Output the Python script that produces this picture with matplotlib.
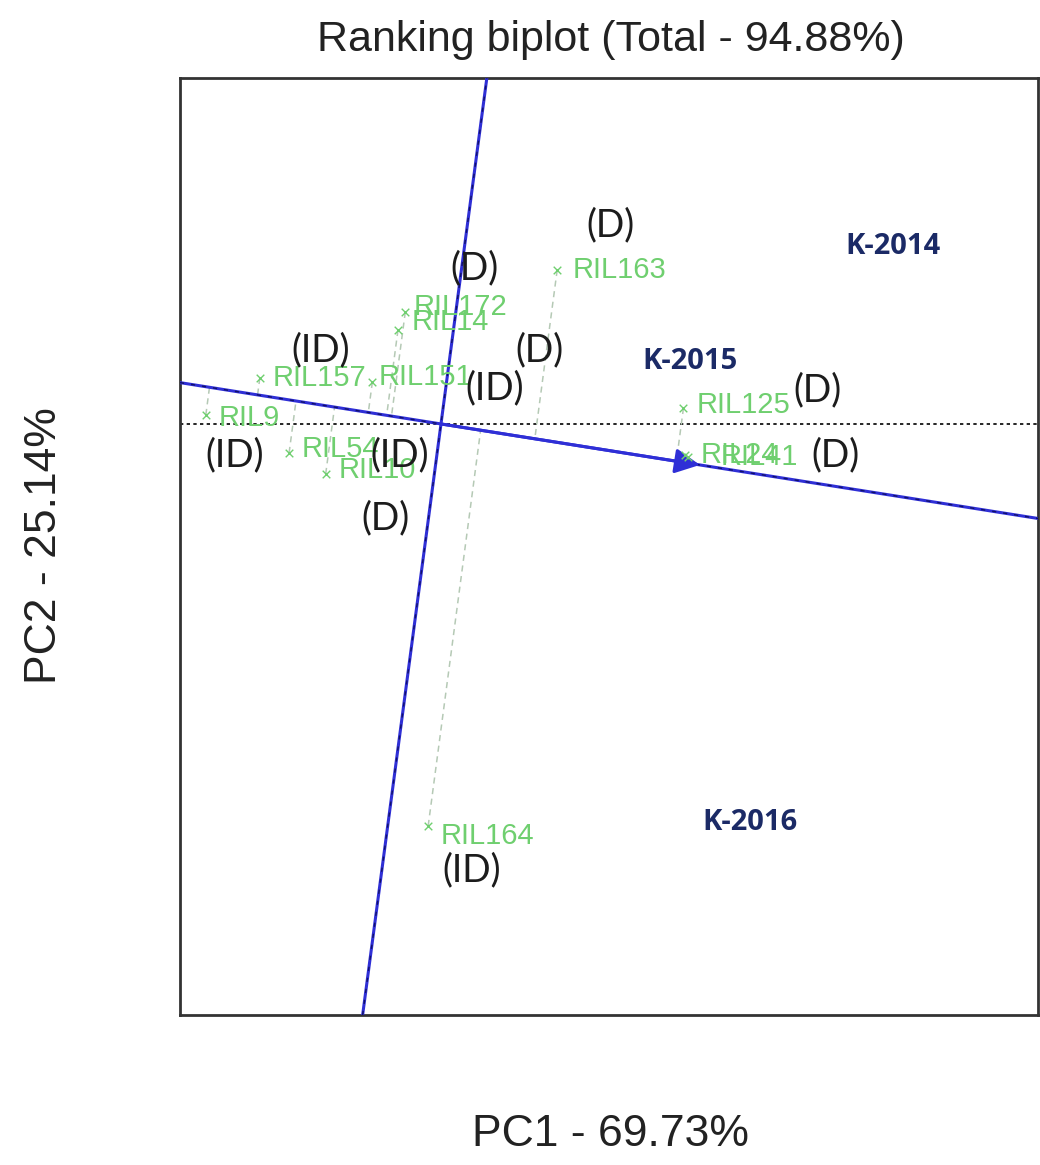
import numpy as np
import matplotlib.pyplot as plt

# genotype scores (PC1, PC2)
genotypes = ["RIL163", "RIL172", "RIL14", "RIL157", "RIL151", "RIL9",
             "RIL54", "RIL10", "RIL125", "RIL24", "RIL41", "RIL164"]
pc1 = [1.27, -0.39, -0.47, -1.98, -0.75, -2.57, -1.66, -1.26, 2.65, 2.67, 2.70, -0.14]
pc2 = [1.54, 1.12, 0.94, 0.46, 0.42, 0.09, -0.29, -0.50, 0.16, -0.31, -0.33, -4.02]
# label offsets in pixels
lab_dx = [15, 8, 14, 13, 6, 13, 13, 13, 13, 15, 33, 12]
lab_dy = [0, 5, 8, 0, 5, -3, 4, 4, 3, 0, 0, -10]

# drought response groups written next to the genotypes
groups = ["(D)", "(D)", "(ID)", "(D)", "(ID)", "(ID)", "(ID)", "(D)", "(D)", "(D)", "(ID)"]
grp_x = [1.85, 0.37, -1.32, 1.08, 0.59, -2.25, -0.45, -0.61, 4.12, 4.31, 0.34]
grp_y = [1.99, 1.56, 0.74, 0.74, 0.36, -0.31, -0.31, -0.94, 0.34, -0.31, -4.46]

# environments
envs = ["K-2014", "K-2015", "K-2016"]
env_x = [4.94, 2.72, 3.38]
env_y = [1.77, 0.62, -3.99]

# average environment coordinate
mean_env = (2.83, -0.41)

blue = "#2f2fd6"
green = "#6fcf6f"
navy = "#1b2a66"

fig = plt.figure(figsize=(10.4, 11.65), dpi=100)
ax = fig.add_axes([0.1731, 0.1288, 0.825, 0.8043])
ax.set_xlim(-2.852, 6.525)
ax.set_ylim(-5.91, 3.46)
ax.set_xticks([])
ax.set_yticks([])
for s in ax.spines.values():
    s.set_linewidth(2)
    s.set_color("#333333")

# dotted reference line
ax.axhline(0, color="black", ls=(0, (2, 2)), lw=1.2, zorder=1)

# average environment axis and its perpendicular
mx, my = mean_env
ax.axline((0, 0), (mx, my), color=blue, lw=2.2, zorder=3)
ax.axline((0, 0), (mx, my), color="#10106a", lw=1, ls=(0, (3, 5)), zorder=3)
ax.axline((0, 0), slope=-mx / my, color=blue, lw=2.2, zorder=3)
ax.axline((0, 0), slope=-mx / my, color="#10106a", lw=1, ls=(0, (3, 5)), zorder=3)
ax.annotate("", xy=(mx, my), xytext=(0, 0),
            arrowprops=dict(arrowstyle="-|>", color=blue, lw=2.2,
                            mutation_scale=38, shrinkA=0, shrinkB=0), zorder=4)

# projections of genotypes onto the average environment axis
u = np.array([mx, my]) / np.hypot(mx, my)
for x, y in zip(pc1, pc2):
    p = np.dot([x, y], u) * u
    ax.plot([x, p[0]], [y, p[1]], color="#b5c9b5", ls=(0, (4, 3)), lw=1.1, zorder=2)

# genotypes
ax.scatter(pc1, pc2, marker="x", s=30, color=green, lw=1, zorder=5)
for g, x, y, dx, dy in zip(genotypes, pc1, pc2, lab_dx, lab_dy):
    ax.annotate(g, (x, y), xytext=(dx, dy), textcoords="offset pixels",
                color=green, fontsize=21, family="Liberation Sans",
                ha="left", va="center", zorder=5)

for g, x, y in zip(groups, grp_x, grp_y):
    ax.text(x, y, g, color="#1c1c1c", fontsize=27, family="Lato",
            ha="center", va="center", zorder=6)

for e, x, y in zip(envs, env_x, env_y):
    ax.text(x, y, e, color=navy, fontsize=21, family="Open Sans",
            fontweight="bold", ha="center", va="center", zorder=6)

fig.text(0.587, 0.966, "Ranking biplot (Total - 94.88%)", fontsize=31,
         family="Liberation Sans", ha="center", va="center", color="#222222")
fig.text(0.587, 0.026, "PC1 - 69.73%", fontsize=32,
         family="Liberation Sans", ha="center", va="center", color="#222222")
fig.text(0.043, 0.532, "PC2 - 25.14%", fontsize=32, rotation=90,
         family="Liberation Sans", ha="center", va="center", color="#222222")

fig.savefig("out.png", dpi=100)
